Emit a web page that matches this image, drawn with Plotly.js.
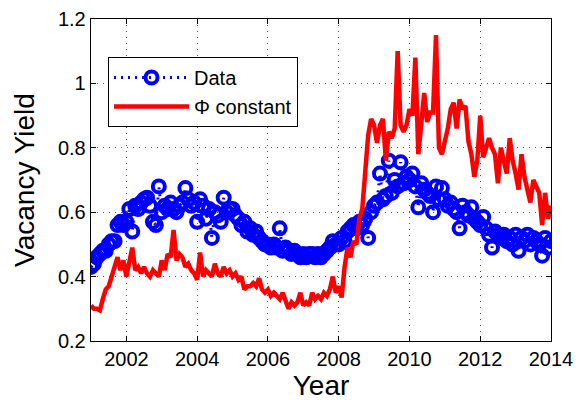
<!DOCTYPE html>
<html>
<head>
<meta charset="utf-8">
<script src="https://cdn.plot.ly/plotly-3.0.1.min.js"></script>
<style>html,body{margin:0;padding:0;background:#fff;}#chart{width:578px;height:406px;}</style>
</head>
<body>
<div id="chart"></div>
<script>
// Monthly observations, January 2001 through January 2014
const startYear = 2001;
const monthsPerYear = 12;

const dataValues = [
  0.43, 0.44, 0.46, 0.47, 0.48, 0.48, 0.50, 0.51, 0.51, 0.56, 0.57, 0.56,
  0.57, 0.61, 0.54, 0.62, 0.61, 0.63, 0.64, 0.645, 0.62, 0.57, 0.56, 0.68,
  0.60, 0.62, 0.61, 0.63, 0.61, 0.60, 0.62, 0.63, 0.675, 0.64, 0.62, 0.63,
  0.57, 0.64, 0.62, 0.58, 0.61, 0.52, 0.60, 0.59, 0.57, 0.645, 0.60, 0.61,
  0.61, 0.59, 0.58, 0.56, 0.57, 0.54, 0.55, 0.53, 0.54, 0.52, 0.51, 0.50,
  0.50, 0.49, 0.50, 0.49, 0.55, 0.48, 0.49, 0.48, 0.47, 0.48, 0.47, 0.46,
  0.47, 0.46, 0.47, 0.47, 0.46, 0.47, 0.46, 0.47, 0.48, 0.49, 0.51, 0.50,
  0.50, 0.52, 0.51, 0.54, 0.55, 0.56, 0.55, 0.57, 0.56, 0.58, 0.52, 0.60,
  0.62, 0.63, 0.72, 0.64, 0.65, 0.76, 0.66, 0.70, 0.68, 0.755, 0.69, 0.71,
  0.70, 0.72, 0.68, 0.615, 0.69, 0.67, 0.66, 0.65, 0.60, 0.68, 0.64, 0.675,
  0.64, 0.62, 0.63, 0.61, 0.60, 0.55, 0.62, 0.60, 0.59, 0.615, 0.58, 0.57,
  0.56, 0.585, 0.55, 0.53, 0.49, 0.54, 0.53, 0.52, 0.53, 0.51, 0.52, 0.50,
  0.53, 0.48, 0.52, 0.51, 0.53, 0.50, 0.52, 0.51, 0.50, 0.465, 0.52, 0.49,
  0.51
];

const phiConstantValues = [
  0.31, 0.30, 0.30, 0.295, 0.33, 0.36, 0.37, 0.40, 0.44, 0.46, 0.42, 0.45,
  0.40, 0.44, 0.49, 0.42, 0.43, 0.41, 0.43, 0.41, 0.40, 0.42, 0.41, 0.40,
  0.45, 0.42, 0.47, 0.46, 0.545, 0.45, 0.47, 0.46, 0.43, 0.44, 0.42, 0.41,
  0.39, 0.475, 0.40, 0.42, 0.41, 0.40, 0.44, 0.41, 0.40, 0.43, 0.41, 0.42,
  0.40, 0.41, 0.39, 0.40, 0.36, 0.37, 0.37, 0.38, 0.37, 0.395, 0.36, 0.35,
  0.36, 0.34, 0.35, 0.34, 0.33, 0.35, 0.32, 0.30, 0.32, 0.31, 0.32, 0.35,
  0.31, 0.32, 0.31, 0.35, 0.33, 0.34, 0.33, 0.35, 0.34, 0.36, 0.40, 0.35,
  0.37, 0.335, 0.43, 0.49, 0.46, 0.51, 0.50, 0.58, 0.61, 0.72, 0.84, 0.89,
  0.87, 0.815, 0.87, 0.89, 0.76, 0.85, 0.83, 0.86, 1.10, 0.87, 0.85, 0.87,
  0.92, 0.90, 1.08, 0.78, 0.86, 0.97, 0.88, 0.91, 0.91, 1.15, 0.80, 0.78,
  0.82, 0.86, 0.92, 0.94, 0.86, 0.95, 0.92, 0.93, 0.82, 0.78, 0.71, 0.76,
  0.90, 0.77, 0.80, 0.83, 0.80, 0.78, 0.69, 0.80, 0.76, 0.72, 0.83, 0.76,
  0.72, 0.67, 0.78, 0.71, 0.67, 0.63, 0.70, 0.68, 0.66, 0.56, 0.66, 0.58,
  0.62
];

const seriesNames = ["Data", "\u03A6 constant"];
const xTickValues = [2002, 2004, 2006, 2008, 2010, 2012, 2014];
const xTickLabels = ["2002", "2004", "2006", "2008", "2010", "2012", "2014"];
const yTickValues = [0.2, 0.4, 0.6, 0.8, 1.0, 1.2];
const yTickLabels = ["0.2", "0.4", "0.6", "0.8", "1", "1.2"];

const years = dataValues.map((_, i) => startYear + i / monthsPerYear);

const FONT = '"Liberation Sans", Arial, Helvetica, sans-serif';

const traces = [
  {
    x: years, y: dataValues, name: seriesNames[0], type: 'scatter', mode: 'lines+markers',
    line: {color: 'rgb(0,0,255)', width: 3, dash: '2px,5px'},
    marker: {symbol: 'circle-open', size: 12, color: 'rgb(0,0,255)', line: {color: 'rgb(0,0,255)', width: 4}}
  },
  {
    x: years, y: phiConstantValues, name: seriesNames[1], type: 'scatter', mode: 'lines',
    line: {color: 'rgb(255,0,0)', width: 4.5}
  }
];

const axisCommon = {
  showline: true, linecolor: '#000', linewidth: 1.3, mirror: 'ticks',
  ticks: 'inside', ticklen: 5, tickwidth: 1, tickcolor: '#000',
  showgrid: true, gridcolor: 'rgba(40,40,40,0.8)', griddash: '1px,5px', gridwidth: 1,
  zeroline: false, tickfont: {family: FONT, size: 20, color: '#000'}
};

const layout = {
  width: 578, height: 406,
  margin: {l: 91, r: 27, t: 19, b: 65},
  paper_bgcolor: '#fff', plot_bgcolor: '#fff',
  font: {family: FONT, color: '#000'},
  xaxis: Object.assign({}, axisCommon, {
    range: [2001, 2014], tickvals: xTickValues, ticktext: xTickLabels,
    title: {text: 'Year', font: {family: FONT, size: 28, color: '#000'}, standoff: 4}
  }),
  yaxis: Object.assign({}, axisCommon, {
    range: [0.2, 1.2], tickvals: yTickValues, ticktext: yTickLabels,
    title: {text: 'Vacancy Yield', font: {family: FONT, size: 28, color: '#000'}, standoff: 15}
  }),
  showlegend: true,
  legend: {
    x: 0.037, y: 0.882, xanchor: 'left', yanchor: 'top',
    bgcolor: '#fff', bordercolor: '#000', borderwidth: 1,
    font: {family: FONT, size: 20, color: '#000'},
    itemwidth: 75, tracegroupgap: 0
  }
};

Plotly.newPlot('chart', traces, layout, {displayModeBar: false, staticPlot: true});
</script>
</body>
</html>
